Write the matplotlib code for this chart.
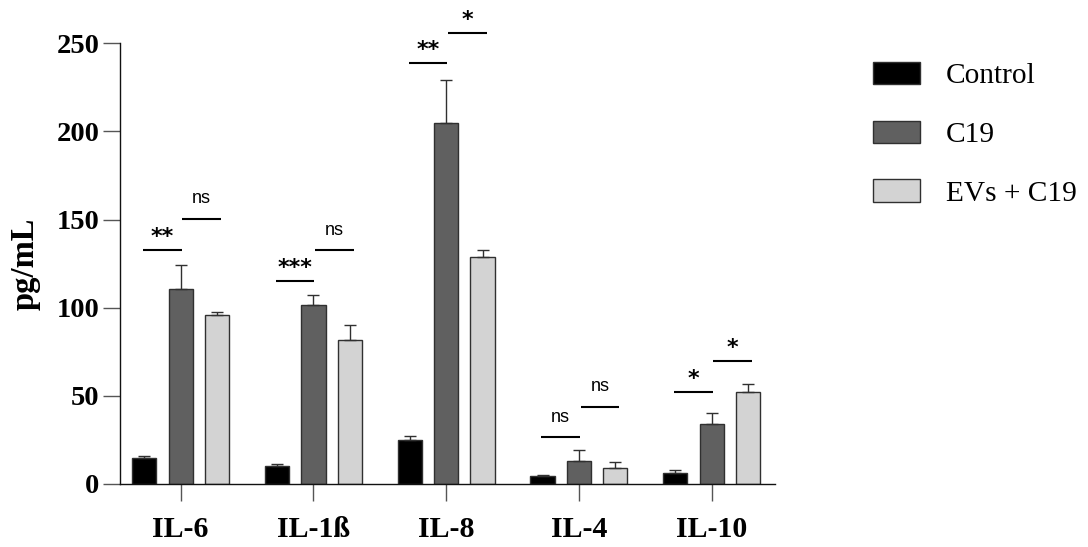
import matplotlib
matplotlib.use("Agg")
import matplotlib.pyplot as plt
import numpy as np

categories = ["IL-6", "IL-1ß", "IL-8", "IL-4", "IL-10"]
series_names = ["Control", "C19", "EVs + C19"]
control = [14.6, 10.0, 24.9, 4.5, 6.1]
c19 = [110.9, 101.5, 205.0, 13.2, 34.0]
evs = [95.8, 81.8, 128.9, 8.9, 52.3]
control_err = [1.5, 1.3, 2.3, 0.4, 1.8]
c19_err = [13.6, 5.6, 24.4, 6.1, 6.1]
evs_err = [1.9, 8.2, 3.8, 3.7, 4.4]
# significance brackets: Control vs C19, C19 vs EVs + C19
sig_low_y = [133.0, 115.1, 238.8, 26.5, 52.2]
sig_low_lab = ["**", "***", "**", "ns", "*"]
sig_high_y = [150.4, 132.7, 256.1, 43.8, 69.7]
sig_high_lab = ["ns", "ns", "*", "ns", "*"]
yticks = [0, 50, 100, 150, 200, 250]

colors = ["#000000", "#606060", "#d3d3d3"]
serif = ["Liberation Serif", "DejaVu Serif"]

fig = plt.figure(figsize=(10.88, 5.47), dpi=100)
ax = fig.add_axes([0.1103, 0.1152, 0.602, 0.8056])

x = np.arange(len(categories))
off = 0.274
w = 0.183
data = [control, c19, evs]
errs = [control_err, c19_err, evs_err]
for i, (vals, er) in enumerate(zip(data, errs)):
    xs = x + (i - 1) * off
    ax.bar(xs, vals, width=w, color=colors[i], edgecolor="#303030",
           linewidth=1.0, label=series_names[i], zorder=2)
    ax.errorbar(xs, vals, yerr=[np.zeros(len(vals)), er], fmt="none",
                ecolor="#303030", elinewidth=1.0, capsize=4.3, capthick=1.0,
                zorder=3)

def sig(xa, xb, y, lab):
    ax.plot([xa, xb], [y, y], color="black", lw=1.5, clip_on=False,
            solid_capstyle="butt", zorder=4)
    xm = (xa + xb) / 2
    if lab == "ns":
        ax.annotate(lab, (xm, y), xytext=(0, 11.2), textcoords="offset points",
                    ha="center", va="baseline", fontsize=13,
                    family=["Liberation Sans", "DejaVu Sans"],
                    annotation_clip=False)
    else:
        ax.annotate(lab, (xm, y), xytext=(0, 5.0), textcoords="offset points",
                    ha="center", va="baseline", fontsize=16, fontweight="bold",
                    family=["DejaVu Sans"], annotation_clip=False)

for g in range(len(categories)):
    sig(x[g] - 0.282, x[g] + 0.008, sig_low_y[g], sig_low_lab[g])
    sig(x[g] + 0.012, x[g] + 0.304, sig_high_y[g], sig_high_lab[g])

ax.set_xlim(-0.457, 4.477)
ax.set_ylim(0, 250)
ax.set_yticks(yticks)
ax.set_xticks(x)
ax.set_xticklabels(categories)
for s in ["top", "right"]:
    ax.spines[s].set_visible(False)
for s in ["left", "bottom"]:
    ax.spines[s].set_linewidth(1.0)
    ax.spines[s].set_color("#111111")
ax.tick_params(axis="both", length=12, width=1.0, color="#555555")
ax.tick_params(axis="y", pad=3)
ax.tick_params(axis="x", pad=11)
for lbl in ax.get_yticklabels():
    lbl.set_family(serif)
    lbl.set_fontweight("bold")
    lbl.set_fontsize(20.5)
for lbl in ax.get_xticklabels():
    lbl.set_family(serif)
    lbl.set_fontweight("bold")
    lbl.set_fontsize(21.5)
ax.set_ylabel("pg/mL", family=serif, fontweight="bold", fontsize=23.5, labelpad=11)

leg = fig.legend(loc="upper left", bbox_to_anchor=(0.8027, 0.887),
                 frameon=False, borderpad=0, borderaxespad=0,
                 handlelength=1.585, handleheight=0.78, handletextpad=0.87,
                 labelspacing=1.07, prop={"family": serif, "size": 21.2})
for p in leg.get_patches():
    p.set_edgecolor("#303030")

fig.savefig("out.png", dpi=100)
